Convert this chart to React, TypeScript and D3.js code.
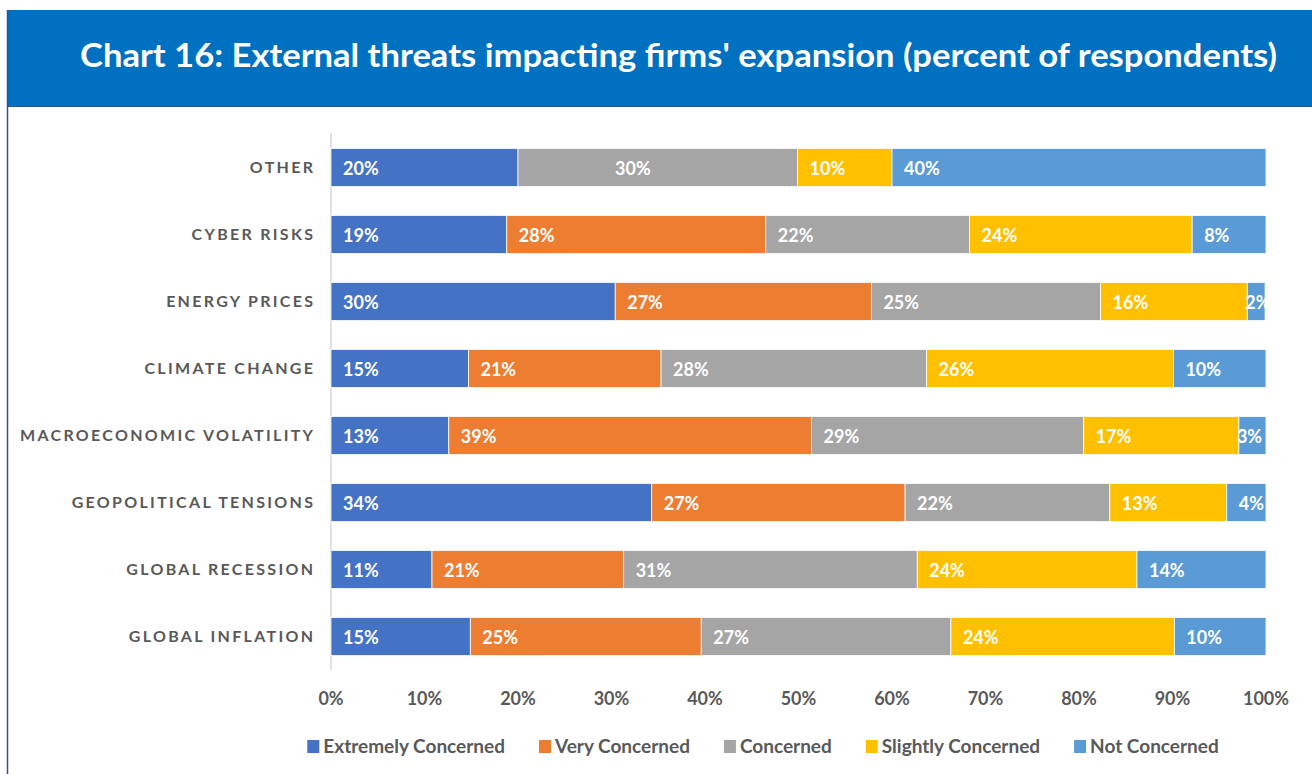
import React, { useEffect, useRef } from "react";
import * as d3 from "d3";

const categories = [
  "OTHER",
  "CYBER RISKS",
  "ENERGY PRICES",
  "CLIMATE CHANGE",
  "MACROECONOMIC VOLATILITY",
  "GEOPOLITICAL TENSIONS",
  "GLOBAL RECESSION",
  "GLOBAL INFLATION",
];
const seriesNames = ["Extremely Concerned", "Very Concerned", "Concerned", "Slightly Concerned", "Not Concerned"];
const extremely = [20.0, 18.8, 30.4, 14.7, 12.6, 34.3, 10.8, 14.9];
const very = [0, 27.7, 27.4, 20.6, 38.8, 27.1, 20.5, 24.7];
const concerned = [29.9, 21.8, 24.5, 28.4, 29.1, 21.9, 31.4, 26.7];
const slightly = [10.1, 23.8, 15.7, 26.4, 16.6, 12.5, 23.5, 23.9];
const notConcerned = [40.0, 7.9, 1.9, 9.9, 2.9, 4.2, 13.8, 9.8];
const xTicks = [0, 10, 20, 30, 40, 50, 60, 70, 80, 90, 100];
const colors = ["#4472C4", "#ED7D31", "#A5A5A5", "#FFC000", "#5B9BD5"];
const titleText = "Chart 16: External threats impacting firms' expansion (percent of respondents)";

const W = 1312;
const H = 774;
const FONT = "Lato, 'Open Sans', sans-serif";

export default function App() {
  const ref = useRef<SVGSVGElement | null>(null);

  useEffect(() => {
    const svg = d3.select(ref.current);
    svg.selectAll("*").remove();

    const series = [extremely, very, concerned, slightly, notConcerned];
    const rows = categories.map((c, i) => {
      const o: any = { cat: c };
      seriesNames.forEach((s, k) => (o[s] = series[k][i]));
      return o;
    });
    const stacked = d3.stack<any>().keys(seriesNames)(rows);

    const x = d3.scaleLinear().domain([0, 100]).range([331, 1266]);
    const y = d3.scaleBand<string>().domain(categories).range([134, 670]).paddingInner(0.43).paddingOuter(0.215);

    // frame
    svg.append("rect").attr("x", 0).attr("y", 0).attr("width", W).attr("height", H).attr("fill", "#fff");
    svg.append("rect").attr("x", 7).attr("y", 10).attr("width", W - 7).attr("height", 96).attr("fill", "#0070C0");
    svg.append("line").attr("x1", 7).attr("x2", W).attr("y1", 106.5).attr("y2", 106.5).attr("stroke", "#2F4FA0").attr("stroke-width", 1);
    svg.append("line").attr("x1", 7.5).attr("x2", 7.5).attr("y1", 10).attr("y2", H).attr("stroke", "#2F4FA0").attr("stroke-width", 1.5);

    svg
      .append("text")
      .attr("x", 80)
      .attr("y", 67)
      .attr("fill", "#fff")
      .attr("font-family", FONT)
      .attr("font-weight", 700)
      .attr("font-size", 33)
      .attr("textLength", 1197)
      .attr("lengthAdjust", "spacingAndGlyphs")
      .text(titleText);

    // axis line
    svg.append("line").attr("x1", 331).attr("x2", 331).attr("y1", 133).attr("y2", 670).attr("stroke", "#D9D9D9").attr("stroke-width", 1.5);

    // bars
    const g = svg.append("g");
    stacked.forEach((layer, k) => {
      layer.forEach((d: any) => {
        const v = d[1] - d[0];
        if (v <= 0) return;
        const cat = d.data.cat;
        const yy = y(cat)!;
        g.append("rect")
          .attr("x", x(d[0]))
          .attr("y", yy)
          .attr("width", x(d[1]) - x(d[0]))
          .attr("height", y.bandwidth())
          .attr("fill", colors[k])
          .attr("stroke", "#fff")
          .attr("stroke-width", 0.8);
      });
    });
    // labels
    stacked.forEach((layer, k) => {
      layer.forEach((d: any) => {
        const v = d[1] - d[0];
        if (v <= 0) return;
        const cat = d.data.cat;
        const yy = y(cat)!;
        const segW = x(d[1]) - x(d[0]);
        let lx = x(d[0]) + (segW < 30 ? -2 : 12);
        if (cat === "OTHER" && k === 2) lx = x(d[0]) + 97;
        g.append("text")
          .attr("x", lx)
          .attr("y", yy + y.bandwidth() / 2 + 7)
          .attr("fill", "#fff")
          .attr("font-family", FONT)
          .attr("font-weight", 700)
          .attr("font-size", 18)
          .text(`${Math.round(v)}%`);
      });
    });
    // clip overflow beyond 100%
    svg.append("rect").attr("x", 1267).attr("y", 134).attr("width", 45).attr("height", 536).attr("fill", "#fff");

    // category labels
    const ls = 2.3;
    categories.forEach((c) => {
      svg
        .append("text")
        .attr("x", 313 + ls)
        .attr("y", y(c)! + y.bandwidth() / 2 + 5.5)
        .attr("text-anchor", "end")
        .attr("fill", "#595959")
        .attr("font-family", FONT)
        .attr("font-weight", 700)
        .attr("font-size", 16)
        .attr("letter-spacing", ls)
        .text(c);
    });

    // x ticks
    xTicks.forEach((t) => {
      svg
        .append("text")
        .attr("x", x(t))
        .attr("y", 705)
        .attr("text-anchor", "middle")
        .attr("fill", "#595959")
        .attr("font-family", FONT)
        .attr("font-weight", 700)
        .attr("font-size", 18)
        .text(`${t}%`);
    });

    // legend
    const lg = svg.append("g");
    let cx = 0;
    seriesNames.forEach((s, k) => {
      lg.append("rect").attr("x", cx).attr("y", 740).attr("width", 12).attr("height", 13).attr("fill", colors[k]);
      const t = lg
        .append("text")
        .attr("x", cx + 16)
        .attr("y", 753)
        .attr("fill", "#595959")
        .attr("font-family", FONT)
        .attr("font-weight", 700)
        .attr("font-size", 19)
        .text(s);
      const w = (t.node() as SVGTextElement).getComputedTextLength();
      cx += 16 + w + 34;
    });
    const total = cx - 34;
    lg.attr("transform", `translate(${763 - total / 2},0)`);
  }, []);

  return <svg ref={ref} width={W} height={H} style={{ display: "block", position: "absolute", left: 0, top: 0 }} />;
}
